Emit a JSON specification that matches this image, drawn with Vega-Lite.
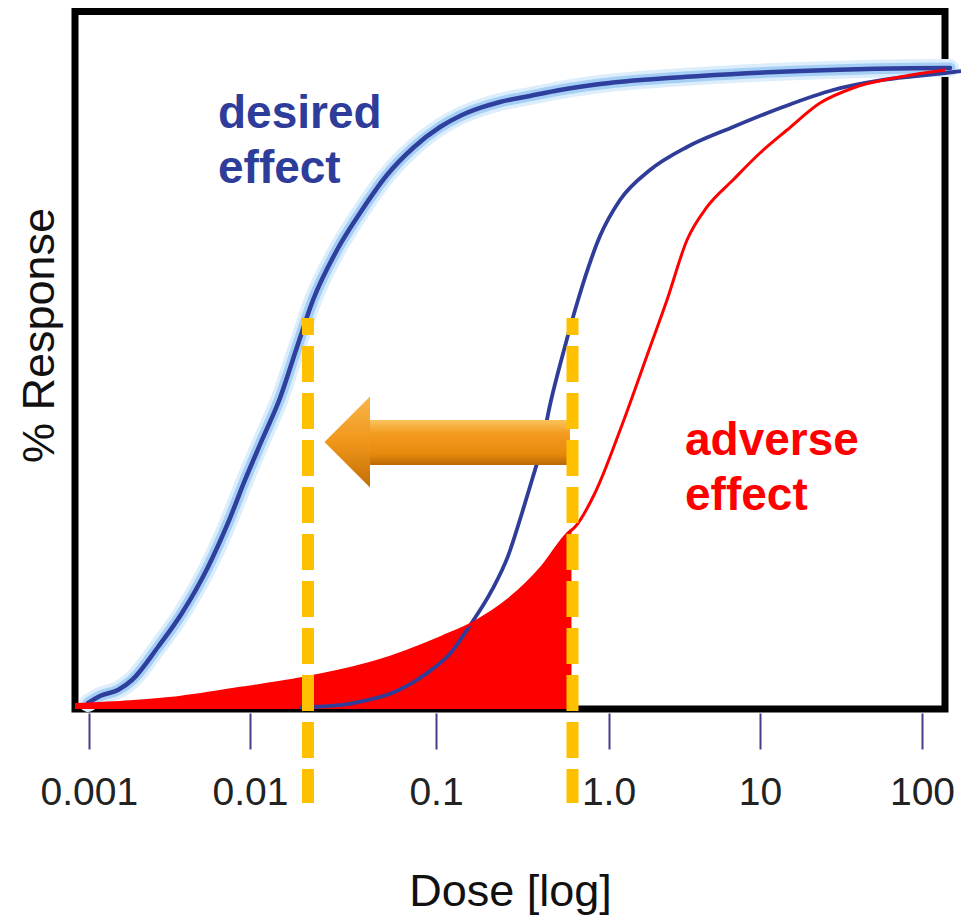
{
  "$schema": "https://vega.github.io/schema/vega-lite/v6.json",
  "width": 870,
  "height": 697.5,
  "autosize": {"type": "none"},
  "padding": {"left": 75, "top": 11.5, "right": 16, "bottom": 207.5},
  "background": "white",
  "config": {"view": {"stroke": "#000000", "strokeWidth": 7, "fill": "white"}},
  "datasets": {
    "desired": [
      {"dose": 0.000989, "resp": 0.94}, {"dose": 0.001173, "resp": 2.03}, {"dose": 0.001517, "resp": 2.97},
      {"dose": 0.001854, "resp": 4.53}, {"dose": 0.002687, "resp": 9.69}, {"dose": 0.003786, "resp": 15.0},
      {"dose": 0.005489, "resp": 22.19}, {"dose": 0.007303, "resp": 29.07}, {"dose": 0.009311, "resp": 35.79},
      {"dose": 0.0116, "resp": 42.04}, {"dose": 0.0145, "resp": 48.6}, {"dose": 0.01768, "resp": 56.1},
      {"dose": 0.02182, "resp": 63.92}, {"dose": 0.02936, "resp": 71.73}, {"dose": 0.03903, "resp": 77.51},
      {"dose": 0.05452, "resp": 83.45}, {"dose": 0.07521, "resp": 87.67}, {"dose": 0.1055, "resp": 90.95},
      {"dose": 0.1377, "resp": 92.67}, {"dose": 0.1799, "resp": 93.92}, {"dose": 0.235, "resp": 94.86},
      {"dose": 0.3506, "resp": 95.8}, {"dose": 0.5234, "resp": 96.73}, {"dose": 0.8927, "resp": 97.67},
      {"dose": 4.018, "resp": 98.92}, {"dose": 17.66, "resp": 99.7}, {"dose": 138.7, "resp": 100.17},
      {"dose": 148.9, "resp": 100.17}
    ],
    "curve2": [
      {"dose": 0.01857, "resp": 0.23}, {"dose": 0.03124, "resp": 0.63}, {"dose": 0.03806, "resp": 1.09},
      {"dose": 0.05799, "resp": 2.5}, {"dose": 0.08727, "resp": 5.4}, {"dose": 0.1238, "resp": 9.0},
      {"dose": 0.1533, "resp": 12.6}, {"dose": 0.2112, "resp": 18.6}, {"dose": 0.2615, "resp": 23.9},
      {"dose": 0.3152, "resp": 30.63}, {"dose": 0.3601, "resp": 35.79}, {"dose": 0.4062, "resp": 40.7},
      {"dose": 0.458, "resp": 47.51}, {"dose": 0.5521, "resp": 56.1}, {"dose": 0.6657, "resp": 63.92},
      {"dose": 0.8927, "resp": 73.9}, {"dose": 1.191, "resp": 79.54}, {"dose": 1.879, "resp": 84.23},
      {"dose": 3.298, "resp": 87.83}, {"dose": 6.633, "resp": 90.95}, {"dose": 13.87, "resp": 94.08},
      {"dose": 28.22, "resp": 96.73}, {"dose": 57.44, "resp": 98.3}, {"dose": 138.7, "resp": 99.39},
      {"dose": 174.1, "resp": 99.7}
    ],
    "red": [
      {"dose": 0.000821, "resp": 0.7}, {"dose": 0.0018, "resp": 1.14}, {"dose": 0.003425, "resp": 1.72},
      {"dose": 0.00892, "resp": 3.28}, {"dose": 0.01975, "resp": 4.84}, {"dose": 0.04699, "resp": 7.34},
      {"dose": 0.1083, "resp": 11.25}, {"dose": 0.1683, "resp": 13.6}, {"dose": 0.2615, "resp": 17.03},
      {"dose": 0.4117, "resp": 22.19}, {"dose": 0.5822, "resp": 27.5}, {"dose": 0.6394, "resp": 28.44},
      {"dose": 0.8349, "resp": 33.76}, {"dose": 1.228, "resp": 44.38}, {"dose": 1.851, "resp": 56.1},
      {"dose": 2.433, "resp": 63.92}, {"dose": 3.298, "resp": 73.29}, {"dose": 4.468, "resp": 78.45},
      {"dose": 6.633, "resp": 82.67}, {"dose": 10, "resp": 86.89}, {"dose": 14.68, "resp": 90.48},
      {"dose": 23.47, "resp": 94.7}, {"dose": 37.51, "resp": 97.05}, {"dose": 73.14, "resp": 98.77},
      {"dose": 138.7, "resp": 99.86}
    ],
    "fill": [
      {"dose": 0.000821, "resp": 0.7}, {"dose": 0.0018, "resp": 1.14}, {"dose": 0.003425, "resp": 1.72},
      {"dose": 0.00892, "resp": 3.28}, {"dose": 0.01975, "resp": 4.84}, {"dose": 0.04699, "resp": 7.34},
      {"dose": 0.1083, "resp": 11.25}, {"dose": 0.1683, "resp": 13.6}, {"dose": 0.2615, "resp": 17.03},
      {"dose": 0.4117, "resp": 22.19}, {"dose": 0.5822, "resp": 27.5}, {"dose": 0.61, "resp": 28.0}
    ],
    "guides": [
      {"dose": 0.0205, "resp": 61.1, "resp2": -14.7},
      {"dose": 0.6184, "resp": 61.1, "resp2": -14.7}
    ],
    "arrowBody": [{"dose": 0.04153, "dose2": 0.5978, "resp": 45.16, "resp2": 38.13}],
    "arrowHead": [{"dose": 0.04417, "resp": 41.72}],
    "labels": [
      {"dose": 0.00633, "resp": 90.8, "text": "desired", "kind": "desired"},
      {"dose": 0.00633, "resp": 82.2, "text": "effect", "kind": "desired"},
      {"dose": 3.199, "resp": 39.69, "text": "adverse", "kind": "adverse"},
      {"dose": 3.199, "resp": 31.1, "text": "effect", "kind": "adverse"}
    ]
  },
  "encoding": {
    "x": {
      "field": "dose",
      "type": "quantitative",
      "scale": {
        "type": "log",
        "domain": [0.000821, 0.001, 0.01, 0.1, 1, 10, 100, 138.7],
        "range": [0, 13.8, 175, 361, 533.5, 685, 847, 870],
        "nice": false
      },
      "axis": {
        "values": [0.001, 0.01, 0.1, 1, 10, 100],
        "labelExpr": "datum.value == 1 ? '1.0' : format(datum.value, '~g')",
        "domain": false,
        "grid": false,
        "ticks": true,
        "tickSize": 36,
        "tickWidth": 2,
        "tickColor": "#4B3A8C",
        "offset": 4,
        "labelFont": "Liberation Sans",
        "labelFontSize": 39,
        "labelColor": "#222222",
        "labelPadding": 24,
        "labelFlush": false,
        "labelOverlap": false,
        "title": "Dose [log]",
        "titleFont": "Liberation Sans",
        "titleFontSize": 45,
        "titleFontWeight": "normal",
        "titleColor": "#111111",
        "titleX": 435,
        "titleY": 192,
        "titleAlign": "center",
        "titleBaseline": "alphabetic"
      }
    },
    "y": {
      "field": "resp",
      "type": "quantitative",
      "scale": {"domain": [0, 109], "nice": false, "zero": false},
      "axis": {
        "title": "% Response",
        "labels": false,
        "ticks": false,
        "domain": false,
        "grid": false,
        "titleFont": "Liberation Sans",
        "titleFontSize": 45,
        "titleFontWeight": "normal",
        "titleColor": "#111111",
        "titleAngle": -90,
        "titleX": -22,
        "titleY": 323.5,
        "titleAlign": "center",
        "titleBaseline": "alphabetic"
      }
    }
  },
  "layer": [
    {"data": {"name": "desired"}, "mark": {"type": "line", "interpolate": "monotone", "stroke": "#DCEDFC", "strokeWidth": 18, "strokeCap": "round", "clip": false}},
    {"data": {"name": "desired"}, "mark": {"type": "line", "interpolate": "monotone", "stroke": "#A6CFF5", "strokeWidth": 11, "strokeCap": "round", "clip": false}},
    {"data": {"name": "desired"}, "mark": {"type": "line", "interpolate": "monotone", "stroke": "#2E3F9E", "strokeWidth": 4.5, "strokeCap": "round", "clip": false}},
    {"data": {"name": "fill"}, "mark": {"type": "area", "interpolate": "monotone", "color": "#FF0000", "clip": false}},
    {"data": {"name": "curve2"}, "mark": {"type": "line", "interpolate": "monotone", "stroke": "#2F3D99", "strokeWidth": 3.8, "clip": false}},
    {"data": {"name": "red"}, "mark": {"type": "line", "interpolate": "monotone", "stroke": "#FF0000", "strokeWidth": 3, "clip": false}},
    {
      "data": {"name": "arrowBody"},
      "mark": {
        "type": "rect",
        "clip": false,
        "fill": {"gradient": "linear", "x1": 0, "y1": 0, "x2": 0, "y2": 1,
          "stops": [{"offset": 0, "color": "#FAC35C"}, {"offset": 0.3, "color": "#F39B20"}, {"offset": 0.75, "color": "#E8890C"}, {"offset": 1, "color": "#B86A05"}]}
      },
      "encoding": {"x2": {"field": "dose2"}, "y2": {"field": "resp2"}}
    },
    {
      "data": {"name": "arrowHead"},
      "mark": {
        "type": "point",
        "shape": "M -1 0 L 0 -1 L 0 1 Z",
        "size": 8281,
        "filled": true,
        "opacity": 1,
        "strokeWidth": 0,
        "clip": false,
        "fill": {"gradient": "linear", "x1": 0, "y1": 0, "x2": 0, "y2": 1,
          "stops": [{"offset": 0, "color": "#F8B54A"}, {"offset": 0.5, "color": "#F0961A"}, {"offset": 1, "color": "#C06E05"}]}
      }
    },
    {
      "data": {"name": "guides"},
      "mark": {"type": "rule", "stroke": "#FFC000", "strokeWidth": 12, "strokeDash": [36, 11], "strokeDashOffset": 19, "clip": false},
      "encoding": {"y2": {"field": "resp2"}}
    },
    {
      "data": {"name": "labels"},
      "mark": {"type": "text", "align": "left", "baseline": "alphabetic", "font": "Liberation Sans", "fontSize": 46, "fontWeight": "bold", "clip": false},
      "encoding": {
        "text": {"field": "text", "type": "nominal"},
        "color": {"field": "kind", "type": "nominal", "scale": {"domain": ["desired", "adverse"], "range": ["#2E3D9A", "#FF0000"]}, "legend": null}
      }
    }
  ]
}
